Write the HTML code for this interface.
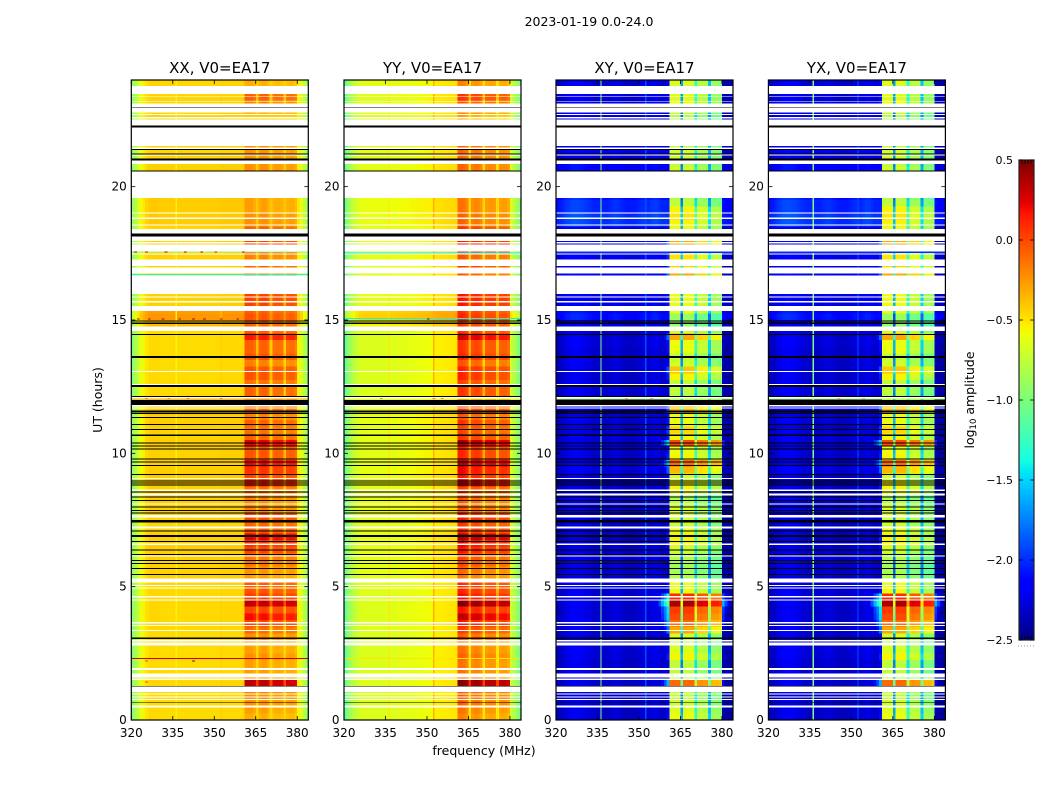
<!DOCTYPE html>
<html lang="en">
<head>
<meta charset="utf-8">
<title>2023-01-19 dynamic spectra</title>
<style>
html,body{margin:0;padding:0;background:#fff;width:1050px;height:800px;overflow:hidden}
svg{display:block}
text{font-family:"DejaVu Sans","Liberation Sans",sans-serif;fill:#000}
</style>
</head>
<body>
<svg id="chart" xmlns="http://www.w3.org/2000/svg" width="1050" height="800" viewBox="0 0 1050 800">
<rect x="0" y="0" width="1050" height="800" fill="#fff"/>
<text x="589" y="26" font-size="12.5" text-anchor="middle">2023-01-19 0.0-24.0</text>
<text x="484" y="755" font-size="12.5" text-anchor="middle">frequency (MHz)</text>
<text x="102" y="400" font-size="12.5" text-anchor="middle" transform="rotate(-90 102 400)">UT (hours)</text>
<text x="974" y="400" font-size="12.5" text-anchor="middle" transform="rotate(-90 974 400)">log<tspan font-size="8.5" dy="2">10</tspan><tspan dy="-2"> amplitude</tspan></text>
</svg>
<script>
const panelTitles = ["XX, V0=EA17", "YY, V0=EA17", "XY, V0=EA17", "YX, V0=EA17"];
const xTicks = [320, 335, 350, 365, 380];
const yTicks = [0, 5, 10, 15, 20];
const colorbarTicks = [0.5, 0, -0.5, -1, -1.5, -2, -2.5];
const colorbarLabels = ["0.5", "0.0", "\u22120.5", "\u22121.0", "\u22121.5", "\u22122.0", "\u22122.5"];

/* log10 amplitude per 1 MHz channel, 320..383 MHz */
const xxContinuum = [-.95,-.85,-.72,-.62,-.56,-.5,-.47,-.46,-.46,-.46,-.47,-.47,-.47,-.47,-.47,-.47,-.47,-.47,-.47,-.47,-.47,-.47,-.47,-.47,-.47,-.47,-.47,-.47,-.47,-.47,-.47,-.47,-.46,-.46,-.46,-.46,-.46,-.46,-.46,-.46,-.45,-.45,-.45,-.45,-.45,-.45,-.45,-.45,-.45,-.45,-.45,-.45,-.45,-.45,-.45,-.45,-.45,-.45,-.45,-.45,-.55,-.65,-.78,-.9];
const yyContinuum = [-1.1,-.95,-.85,-.78,-.72,-.68,-.66,-.65,-.65,-.65,-.65,-.65,-.65,-.65,-.65,-.65,-.64,-.64,-.64,-.63,-.63,-.62,-.62,-.62,-.61,-.61,-.6,-.6,-.59,-.59,-.58,-.58,-.55,-.54,-.53,-.53,-.52,-.52,-.51,-.51,-.5,-.5,-.5,-.5,-.5,-.5,-.5,-.5,-.5,-.5,-.5,-.5,-.5,-.5,-.5,-.5,-.5,-.5,-.5,-.5,-.7,-.8,-.9,-1.0];
const xyContinuum = [-2.38,-2.36,-2.33,-2.28,-2.26,-2.23,-2.22,-2.22,-2.23,-2.24,-2.26,-2.28,-2.3,-2.32,-2.33,-2.33,-2.33,-2.34,-2.34,-2.32,-2.3,-2.28,-2.3,-2.32,-2.34,-2.36,-2.36,-2.36,-2.36,-2.34,-2.32,-2.3,-2.3,-2.32,-2.28,-2.26,-2.26,-2.3,-2.33,-2.33,-2.33,-2.33,-2.33,-2.33,-2.33,-2.33,-2.33,-2.33,-2.33,-2.33,-2.33,-2.33,-2.33,-2.33,-2.33,-2.33,-2.33,-2.33,-2.33,-2.33,-2.4,-2.42,-2.44,-2.44];
const yxContinuum = [-2.38,-2.36,-2.33,-2.28,-2.25,-2.22,-2.21,-2.21,-2.22,-2.23,-2.25,-2.28,-2.3,-2.32,-2.33,-2.33,-2.33,-2.34,-2.34,-2.32,-2.3,-2.28,-2.3,-2.32,-2.34,-2.36,-2.36,-2.36,-2.36,-2.34,-2.32,-2.3,-2.3,-2.32,-2.28,-2.26,-2.26,-2.3,-2.33,-2.33,-2.33,-2.33,-2.33,-2.33,-2.33,-2.33,-2.33,-2.33,-2.33,-2.33,-2.33,-2.33,-2.33,-2.33,-2.33,-2.33,-2.33,-2.33,-2.33,-2.33,-2.4,-2.42,-2.44,-2.44];

/* band response per channel, 320..383 MHz */
const o = -9;
const xxBand = [o,o,o,o,o,o,o,o,o,o,o,o,o,o,o,o,o,o,o,o,o,o,o,o,o,o,o,o,o,o,o,o,o,o,o,o,o,o,o,o,o,-.05,-.05,-.05,-.1,-.35,-.08,-.05,-.05,-.1,-.4,-.12,-.1,-.1,-.12,-.4,-.12,-.1,-.1,-.15,o,o,o,o];
const yyBand = [o,o,o,o,o,o,o,o,o,o,o,o,o,o,o,o,o,o,o,o,o,o,o,o,o,o,o,o,o,o,o,o,o,o,o,o,o,o,o,o,o,.1,.1,.08,.03,-.3,0,.03,.03,-.03,-.35,-.05,-.03,-.03,-.05,-.35,-.06,-.05,-.05,-.1,o,o,o,o];
const crossBand = [o,o,o,o,o,o,o,o,o,o,o,o,o,o,o,o,o,o,o,o,o,o,o,o,o,-9,-9,-9,-9,-9,-9,-9,-9,-9,-9,-2.9,-2.6,-2.3,-2.0,-1.8,-1.5,0,0,0,0,-1,0,0,0,0,-.7,-.15,-.12,-.15,-.15,-.9,-.25,-.25,-.25,-.3,-2.0,-2.3,-2.6,-2.9];

/* narrow interference lines */
const rfiMHz = [336.0, 352.2];
const xxRfiLog = [-.55, -.42];
const yyRfiLog = [-.5, -.33];
const xyRfiLog = [-1.0, -1.9];
const yxRfiLog = [-1.0, -1.9];

/* level per 15-minute bin, UT 0..24 */
const parallelBandLevel = [-.27,-.22,-.17,-.17,-.12,.4,-.17,-.22,-.22,-.17,-.22,-.22,-.17,-.05,.08,.25,.08,.4,.1,.03,0,-.22,-.17,-.07,-.07,.08,.15,.3,.03,-.02,.08,-.12,-.17,-.12,-.07,.2,.08,.13,.28,.03,.03,.3,-.02,-.07,-.02,-.12,-.02,-.02,-.02,-.02,-.07,.03,.03,-.12,.03,-.02,-.02,.22,-.02,-.02,.03,-.02,.08,.08,-.02,-.02,-.12,-.02,-.02,-.12,.03,.08,-.02,-.02,-.17,-.17,-.22,-.22,-.22,-.22,-.22,-.22,-.17,-.17,-.17,-.17,-.17,-.22,-.22,-.22,-.37,-.22,-.12,-.02,-.02,-.27];
const crossBandLevel = [-.6,-.65,-.7,-.75,-.7,-.1,-.7,-.75,-.75,-.55,-.65,-.75,-.7,-.3,-.1,0,.05,.4,.1,-.6,-.6,-.8,-.85,-.85,-.8,-.7,-.55,-.55,-.6,-.7,-.7,-.65,-.75,-.85,-.55,-.55,-.7,-.35,-.1,-.55,-.6,0,-.55,-.45,-.6,-.6,-.35,-.5,-.8,-.75,-.75,-.55,-.4,-.7,-.75,-.6,-.6,-.3,-.7,-.9,-.9,-.6,-.6,-.6,-.6,-.6,-.3,-.5,-.4,-.5,-.7,-.3,-.6,-.6,-.55,-.5,-.55,-.75,-.8,-.8,-.75,-.75,-.7,-.75,-.7,-.7,-.8,-.8,-.8,-.8,-.8,-.7,-.6,-.65,-.65,-.65];
const parallelContLevel = [0,0,0,0,0,.01,0,0,0,0,0,0,0,0,.01,.01,.01,.01,.01,.01,.02,.03,.03,.03,.04,.04,.04,.04,.03,.02,.03,.04,.05,.04,.03,.05,.05,.04,.04,.03,.03,.04,.03,.03,.04,.04,.04,.05,.01,0,0,0,0,0,0,0,0,0,0,.1,.22,.2,.03,.03,.02,.02,.02,.02,.02,.03,.05,.03,.02,.02,.05,.05,.05,.05,.05,.03,.03,.03,.03,.03,.02,.02,.02,.02,.02,.02,.02,.02,.02,.02,.02,.02];
const crossContLevel = [.02,.02,.02,0,0,.02,.03,.03,.02,.04,.05,.04,.02,.04,.05,.03,.03,.04,.05,.03,.05,.03,.02,.02,.04,.02,0,0,.01,.02,.02,0,0,.03,.03,.02,.02,.05,.03,.02,.02,.05,.03,.03,.02,.03,.06,0,.02,.05,.05,.02,.03,.03,.02,.02,.05,.04,.02,.08,.22,.18,.1,.1,.1,.1,.1,.1,.1,.1,.1,.1,.1,.1,.35,.35,.3,.3,.25,.1,.1,.1,.15,.15,.1,.1,.1,.05,.05,.05,.05,.05,.05,.05,.05,.05];

/* UT hours with no data (drawn white) */
const blankStartUT = [.461,.75,.836,.964,1.05,1.5,1.586,1.875,2.786,2.936,3.338,3.525,3.626,4.474,4.601,4.924,5.025,5.149,6.124,6.563,7.189,7.586,8.089,8.426,8.588,9.038,11.674,11.764,12.049,12.563,13.05,14.588,15.338,15.664,15.851,15.975,16.736,17.025,17.449,17.561,17.876,17.963,18.236,18.551,18.788,19.001,19.575,20.85,21.169,21.413,21.525,22.301,22.564,22.688,22.774,22.976,23.186,23.374,23.475];
const blankEndUT = [.536,.788,.874,1.001,1.249,1.564,1.751,1.95,2.914,3.0,3.375,3.563,3.675,4.526,4.65,4.976,5.063,5.314,6.161,6.626,7.249,7.688,8.126,8.501,8.651,9.075,11.726,11.813,12.113,12.6,13.088,14.749,15.525,15.713,15.889,16.669,16.976,17.276,17.501,17.824,17.925,18.124,18.413,18.589,18.836,19.039,20.576,20.974,21.199,21.461,22.211,22.526,22.613,22.725,22.95,23.126,23.213,23.4,23.775];
/* UT hours with flagged zero data (drawn black) */
const flagStartUT = [.638,1.249,3.038,5.438,5.663,5.85,5.963,6.188,6.349,6.675,6.863,6.9,7.069,7.399,7.736,7.838,7.969,8.213,8.344,8.524,8.794,8.869,8.944,9.188,9.525,9.656,9.769,10.144,10.256,10.369,10.65,10.875,11.063,11.325,11.475,11.539,11.813,12.113,12.488,13.575,14.438,14.85,14.936,18.124,20.576,20.974,21.199,21.375,22.211,22.95];
const flagEndUT = [.664,1.275,3.101,5.475,5.7,5.888,6.0,6.225,6.401,6.713,6.9,6.9375,7.106,7.5,7.774,7.875,8.006,8.25,8.381,8.561,8.831,8.906,8.981,9.225,9.563,9.694,9.806,10.181,10.294,10.406,10.706,10.913,11.1,11.363,11.513,11.599,12.0,12.15,12.563,13.65,14.475,14.899,14.974,18.236,20.606,21.049,21.236,21.413,22.301,22.976];

/* single anomalous integrations */
const anomalyPanel = [0, 1, 1, 0, 0, 0, 1, 1, 2, 3, 2, 3];
const anomalyUT = [16.68, 17.5, 15.03, 17.53, 12.02, 2.28, 12.02, 2.28, 12.02, 12.02, 17.52, 17.52];
const anomalyLog = [-1.4, -1.4, -1.4, -.9, -.3, .3, -.6, -.5, -.8, -.8, -2.0, -2.0];

/* isolated hot pixels */
const specklePanel = [0,0,0,0,0,0,0,0,0,0,0,0,0,0,0,0,0,0,0,0,0,0,0,1,1,1,1,2,2,3,3];
const speckleUT = [17.53,17.53,17.53,17.53,17.53,17.53,17.53,15.02,15.02,15.02,15.02,15.02,15.02,15.02,15.02,12.03,12.03,12.03,12.03,21.0,2.2,2.2,1.4,12.03,12.03,12.03,15.02,12.03,12.03,12.03,12.03];
const speckleMHz = [321,325,332,339,345,350,360,322,326,331,337,342,346,352,358,325,333,340,352,342,342,325,325,333,352,355,350,345,354,345,354];
const speckleLog = [.3,.2,.3,.35,.3,.2,.3,.3,.35,.3,.3,.35,.3,.3,.35,.3,.3,.3,.4,.45,.45,.05,.05,.4,.45,.45,.4,.1,.1,.1,.1];

const panelLefts = [131.3, 344, 556, 768.4];
const PANEL_W = 177, TOP = 80, BOTTOM = 720;
const FREQ_MIN = 320, FREQ_MAX = 384, UT_MAX = 24, BIN_H = 0.25, CBAR_MIN = -2.5, CBAR_MAX = 0.5;
const continua = [xxContinuum, yyContinuum, xyContinuum, yxContinuum];
const bands = [xxBand, yyBand, crossBand, crossBand];
const bandLevels = [parallelBandLevel, parallelBandLevel, crossBandLevel, crossBandLevel];
const contLevels = [parallelContLevel, parallelContLevel, crossContLevel, crossContLevel];
const rfiLogs = [xxRfiLog, yyRfiLog, xyRfiLog, yxRfiLog];

const NS = "http://www.w3.org/2000/svg";
const svg = document.getElementById("chart");
function xScale(p, f) { return panelLefts[p] + (f - FREQ_MIN) / (FREQ_MAX - FREQ_MIN) * PANEL_W; }
function yScale(u) { return BOTTOM - u / UT_MAX * (BOTTOM - TOP); }
function cbarY(v) { return 160 + (CBAR_MAX - v) / (CBAR_MAX - CBAR_MIN) * 480; }
function lerp(pts, t) {
  for (let i = 1; i < pts.length; i++) {
    if (t <= pts[i][0]) {
      const a = pts[i - 1], b = pts[i];
      return a[1] + (b[1] - a[1]) * (t - a[0]) / (b[0] - a[0]);
    }
  }
  return pts[pts.length - 1][1];
}
function jet(v) {
  const t = Math.max(0, Math.min(1, (v - CBAR_MIN) / (CBAR_MAX - CBAR_MIN)));
  const r = lerp([[0,0],[.35,0],[.66,1],[.89,1],[1,.5]], t);
  const g = lerp([[0,0],[.125,0],[.375,1],[.64,1],[.91,0],[1,0]], t);
  const b = lerp([[0,.5],[.11,1],[.34,1],[.65,0],[1,0]], t);
  return "rgb(" + Math.round(r * 255) + "," + Math.round(g * 255) + "," + Math.round(b * 255) + ")";
}
function rect(parent, x, y, w, h, fill) {
  const el = document.createElementNS(NS, "rect");
  el.setAttribute("x", x);
  el.setAttribute("y", y);
  el.setAttribute("width", w);
  el.setAttribute("height", h);
  el.setAttribute("fill", fill);
  parent.appendChild(el);
  return el;
}
function line(parent, x1, y1, x2, y2, sw) {
  const el = document.createElementNS(NS, "line");
  el.setAttribute("x1", x1);
  el.setAttribute("y1", y1);
  el.setAttribute("x2", x2);
  el.setAttribute("y2", y2);
  el.setAttribute("stroke", "#000");
  el.setAttribute("stroke-width", sw);
  parent.appendChild(el);
  return el;
}
function label(parent, x, y, str, size, anchor) {
  const el = document.createElementNS(NS, "text");
  el.setAttribute("x", x);
  el.setAttribute("y", y);
  el.setAttribute("font-size", size);
  el.setAttribute("text-anchor", anchor);
  el.textContent = str;
  parent.appendChild(el);
  return el;
}

panelLefts.forEach(function (left, p) {
  const g = document.createElementNS(NS, "g");
  
  
  svg.appendChild(g);

  const img = document.createElementNS(NS, "g");
  img.setAttribute("shape-rendering", "crispEdges");
  
  
  g.appendChild(img);

  const right = left + PANEL_W;
  const levelCount = bandLevels[p].length;
  for (let b = 0; b < levelCount; b++) {
    const yTop = yScale((b + 1) * BIN_H), yBot = yScale(b * BIN_H);
    for (let c = 0; c < continua[p].length; c++) {
      const f = FREQ_MIN + c;
      const v = Math.max(contLevels[p][b] + continua[p][c], bandLevels[p][b] + bands[p][c]);
      const x0 = xScale(p, f), x1 = xScale(p, f + 1);
      const cell = rect(img, x0, yTop, x1 - x0, yBot - yTop, jet(v));
      
      
    }
  }
  rfiMHz.forEach(function (f, i) {
    const r = rect(img, xScale(p, f), TOP, xScale(p, f + 0.45) - xScale(p, f), BOTTOM - TOP, jet(rfiLogs[p][i]));
    
    
  });
  anomalyUT.forEach(function (u, i) {
    if (anomalyPanel[i] !== p) return;
    const r = rect(img, left, yScale(u + 0.04), PANEL_W, yScale(u) - yScale(u + 0.04), jet(anomalyLog[i]));
    
    
  });
  speckleUT.forEach(function (u, i) {
    if (specklePanel[i] !== p) return;
    const r = rect(img, xScale(p, speckleMHz[i]), yScale(u + 0.04), PANEL_W / 64, yScale(u) - yScale(u + 0.04), jet(speckleLog[i]));
    
    
  });
  blankStartUT.forEach(function (u, i) {
    const r = rect(img, left, yScale(blankEndUT[i]), PANEL_W, yScale(u) - yScale(blankEndUT[i]), "#fff");
    
    
  });
  flagStartUT.forEach(function (u, i) {
    const r = rect(img, left, yScale(flagEndUT[i]), PANEL_W, yScale(u) - yScale(flagEndUT[i]), "#000");
    
    
  });

  const frame = document.createElementNS(NS, "rect");
  frame.setAttribute("x", left);
  frame.setAttribute("y", TOP);
  frame.setAttribute("width", PANEL_W);
  frame.setAttribute("height", BOTTOM - TOP);
  frame.setAttribute("fill", "none");
  frame.setAttribute("stroke", "#000");
  frame.setAttribute("stroke-width", "1.2");
  
  
  g.appendChild(frame);

  const title = label(g, left + PANEL_W / 2, 73, panelTitles[p], 15, "middle");
  
  

  xTicks.forEach(function (t) {
    const x = xScale(p, t);
    const t1 = line(g, x, BOTTOM, x, BOTTOM - 4, 0.8);
    
    
    const t2 = line(g, x, TOP, x, TOP + 4, 0.8);
    
    
    const lb = label(g, x, 737, String(t), 12, "middle");
    
    
  });
  yTicks.forEach(function (t) {
    const y = yScale(t);
    const t1 = line(g, left, y, left + 4, y, 0.8);
    
    
    const t2 = line(g, right, y, right - 4, y, 0.8);
    
    
    const lb = label(g, left - 4.5, y + 4, String(t), 12, "end");
    
    
  });
});

/* colorbar */
const cb = document.createElementNS(NS, "g");


svg.appendChild(cb);
const cbImg = document.createElementNS(NS, "g");
cbImg.setAttribute("shape-rendering", "crispEdges");


cb.appendChild(cbImg);
const CB_STEP = (CBAR_MAX - CBAR_MIN) / 256;
for (let v = CBAR_MIN; v < CBAR_MAX - 1e-9; v += CB_STEP) {
  const s = rect(cbImg, 1019, cbarY(v + CB_STEP), 15, cbarY(v) - cbarY(v + CB_STEP) + 0.5, jet(v + CB_STEP / 2));
  
  
}
const cbFrame = document.createElementNS(NS, "rect");
cbFrame.setAttribute("x", 1019);
cbFrame.setAttribute("y", 160);
cbFrame.setAttribute("width", 15);
cbFrame.setAttribute("height", 480);
cbFrame.setAttribute("fill", "none");
cbFrame.setAttribute("stroke", "#222");
cbFrame.setAttribute("stroke-width", "1.2");


cb.appendChild(cbFrame);
colorbarTicks.forEach(function (t, i) {
  const y = cbarY(t);
  const a = line(cb, 1019, y, 1023, y, 0.8);
  
  
  const b = line(cb, 1034, y, 1030, y, 0.8);
  
  
  const lb = label(cb, 1013, y + 4, colorbarLabels[i], 11, "end");
  
  
});
[1022, 1025, 1028, 1031].forEach(function (x) {
  const a = line(cb, x, 160, x, 164, 0.8);
  
  
  const b = line(cb, x, 640, x, 636, 0.8);
  
  
});
[1018, 1021, 1024, 1027, 1030, 1033].forEach(function (x) {
  const d = rect(cb, x, 645.5, 1, 1, "#999");
  
  
});
</script>
</body>
</html>
